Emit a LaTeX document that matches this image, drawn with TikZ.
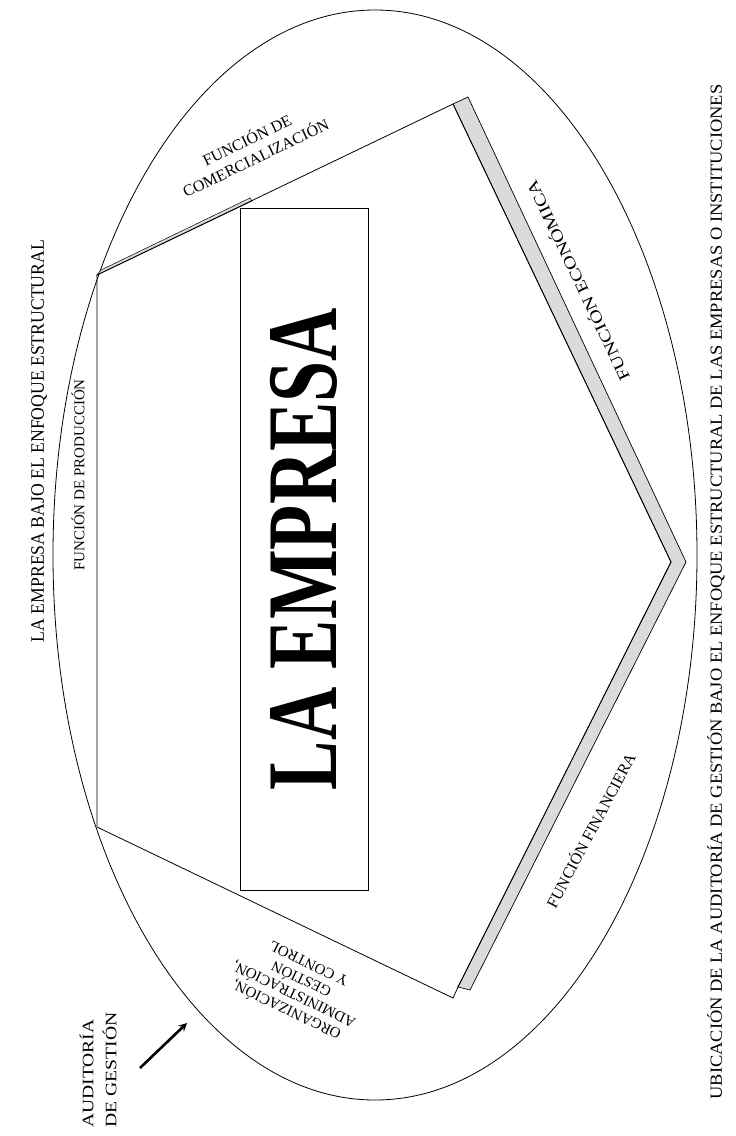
\documentclass[tikz,border=0pt]{standalone}
\usepackage{fontspec}
\setmainfont{Liberation Serif}
\usetikzlibrary{positioning}
\newcommand{\fitw}[2]{\resizebox{#1}{\height}{#2}}

\begin{document}
\begin{tikzpicture}[
  x=1pt, y=-1pt,
  edge/.style={draw, line width=0.8pt},
  strip/.style={draw, fill=gray!28, line width=0.7pt},
  box/.style={rectangle, draw, line width=0.8pt, inner sep=0pt},
  label/.style={inner sep=0pt, align=center, font=\fontsize{16}{20}\selectfont},
  arrow/.style={->, line width=2.6pt, >=stealth},
]
  \useasboundingbox (0,0) rectangle (736,1136);

  \draw[edge] (375,555) ellipse [x radius=322pt, y radius=545pt];

  \coordinate (A) at (97,275);
  \coordinate (B) at (97,827);
  \coordinate (C) at (453,998);
  \coordinate (Cs) at (458,987);
  \coordinate (D) at (671,562);
  \coordinate (E) at (453,104);
  \coordinate (Eo) at (468,97);
  \coordinate (Do) at (686,562);
  \coordinate (Co) at (470,990);
  \coordinate (Ao) at (101,270);
  \coordinate (T) at (252,201);
  \coordinate (To) at (250,198);

  \draw[strip] (E) -- (Eo) -- (Do) -- (Co) -- (Cs) -- (D) -- cycle;
  \draw[strip, line width=0.5pt] (A) -- (Ao) -- (To) -- (T) -- cycle;
  \draw[edge] (A) -- (B) -- (C) -- (Cs) -- (D) -- (E) -- cycle;

  \node[box, rotate=90, minimum width=682pt, minimum height=128pt] (empresa) at (304,549)
    {\fontsize{100}{100}\selectfont\bfseries\fitw{482pt}{LA EMPRESA}};

  \node[label, rotate=90] (titulo) at (39,441)
    {\fontsize{19}{20}\selectfont\fitw{402pt}{LA EMPRESA BAJO EL ENFOQUE ESTRUCTURAL}};
  \node[label, rotate=90] (ubicacion) at (716,592)
    {\fontsize{17}{17}\selectfont\fitw{1015pt}{UBICACIÓN DE LA AUDITORÍA DE GESTIÓN BAJO EL ENFOQUE ESTRUCTURAL DE LAS EMPRESAS O INSTITUCIONES}};

  \node[label, rotate=90, font=\fontsize{15}{15}\selectfont] (produccion) at (78,475) {FUNCIÓN DE PRODUCCIÓN};
  \node[label, rotate=25.7] (comercial) at (251,148) {FUNCIÓN DE\\COMERCIALIZACIÓN};
  \node[label, rotate=115.5] (economica) at (577,281) {\fitw{220pt}{FUNCIÓN ECONÓMICA}};
  \node[label, rotate=62] (financiera) at (590,830) {FUNCIÓN FINANCIERA};
  \node[label, rotate=154.3, font=\fontsize{15}{17}\selectfont] (organiza) at (297,988)
    {ORGANIZACIÓN,\\ADMINISTRACIÓN,\\GESTIÓN\\Y CONTROL};

  \node[label, rotate=90, align=left, font=\fontsize{16}{23}\selectfont] (auditoria) at (98,1070)
    {\fitw{108pt}{AUDITORÍA}\\\fitw{115pt}{DE GESTIÓN}};

  \coordinate (arrtail) at (140,1068);
  \coordinate (arrtip) at (187,1023);
  \draw[arrow] (arrtail) -- (arrtip);
\end{tikzpicture}
\end{document}
